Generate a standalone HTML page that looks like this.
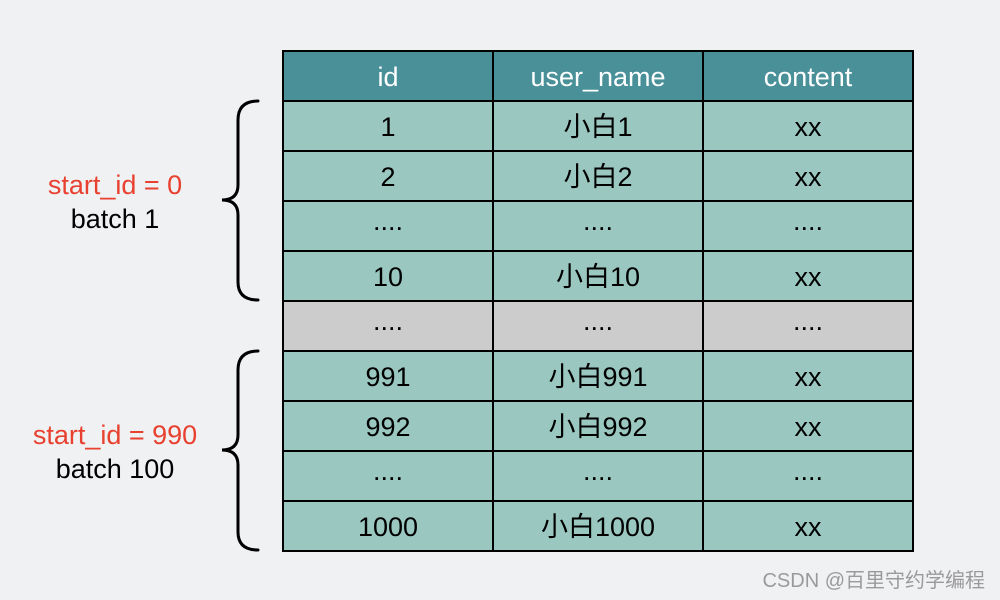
<!DOCTYPE html>
<html><head><meta charset="utf-8"><style>
html,body{margin:0;padding:0;background:#f0f1f3;}
svg{display:block;}
text{font-family:"Liberation Sans","Noto Sans CJK SC",sans-serif;}
</style></head><body>
<svg width="1000" height="600" viewBox="0 0 1000 600">
<rect width="1000" height="600" fill="#f0f1f3"/>
<rect x="283" y="51" width="630" height="50" fill="#4a9099"/>
<rect x="283" y="101" width="630" height="200" fill="#9ac8c0"/>
<rect x="283" y="301" width="630" height="50" fill="#cccccc"/>
<rect x="283" y="351" width="630" height="200" fill="#9ac8c0"/>
<g stroke="#000" stroke-width="2" fill="none">
<rect x="283" y="51" width="630" height="500"/>
<line x1="493" y1="51" x2="493" y2="551"/>
<line x1="703" y1="51" x2="703" y2="551"/>
<line x1="283" y1="101" x2="913" y2="101"/>
<line x1="283" y1="151" x2="913" y2="151"/>
<line x1="283" y1="201" x2="913" y2="201"/>
<line x1="283" y1="251" x2="913" y2="251"/>
<line x1="283" y1="301" x2="913" y2="301"/>
<line x1="283" y1="351" x2="913" y2="351"/>
<line x1="283" y1="401" x2="913" y2="401"/>
<line x1="283" y1="451" x2="913" y2="451"/>
<line x1="283" y1="501" x2="913" y2="501"/>
</g>
<g stroke="#000" stroke-width="3" fill="none" stroke-linecap="round">
<path d="M258 101 Q238 101 238 120 L238 185 Q238 200 222 200 Q238 200 238 215 L238 282 Q238 300 258 300"/>
<path d="M258 351 Q238 351 238 370 L238 435 Q238 450 222 450 Q238 450 238 465 L238 532 Q238 550 258 550"/>
</g>
<g font-size="27" text-anchor="middle" fill="#fff">
<text x="388" y="86">id</text><text x="598" y="86">user_name</text><text x="808" y="86">content</text>
</g>
<g font-size="27" text-anchor="middle" fill="#000">
<text x="388" y="136">1</text><text x="598" y="136">小白1</text><text x="808" y="136">xx</text>
<text x="388" y="186">2</text><text x="598" y="186">小白2</text><text x="808" y="186">xx</text>
<text x="388" y="230">....</text><text x="598" y="230">....</text><text x="808" y="230">....</text>
<text x="388" y="286">10</text><text x="598" y="286">小白10</text><text x="808" y="286">xx</text>
<text x="388" y="330">....</text><text x="598" y="330">....</text><text x="808" y="330">....</text>
<text x="388" y="386">991</text><text x="598" y="386">小白991</text><text x="808" y="386">xx</text>
<text x="388" y="436">992</text><text x="598" y="436">小白992</text><text x="808" y="436">xx</text>
<text x="388" y="480">....</text><text x="598" y="480">....</text><text x="808" y="480">....</text>
<text x="388" y="536">1000</text><text x="598" y="536">小白1000</text><text x="808" y="536">xx</text>
</g>
<g font-size="27" text-anchor="middle">
<text x="115" y="194" fill="#e8412f">start_id = 0</text>
<text x="115" y="228" fill="#000">batch 1</text>
<text x="115" y="444" fill="#e8412f">start_id = 990</text>
<text x="115" y="478" fill="#000">batch 100</text>
</g>
<text x="985" y="587" font-size="20" text-anchor="end" fill="#9a9a9a">CSDN @百里守约学编程</text>
</svg>
</body></html>
